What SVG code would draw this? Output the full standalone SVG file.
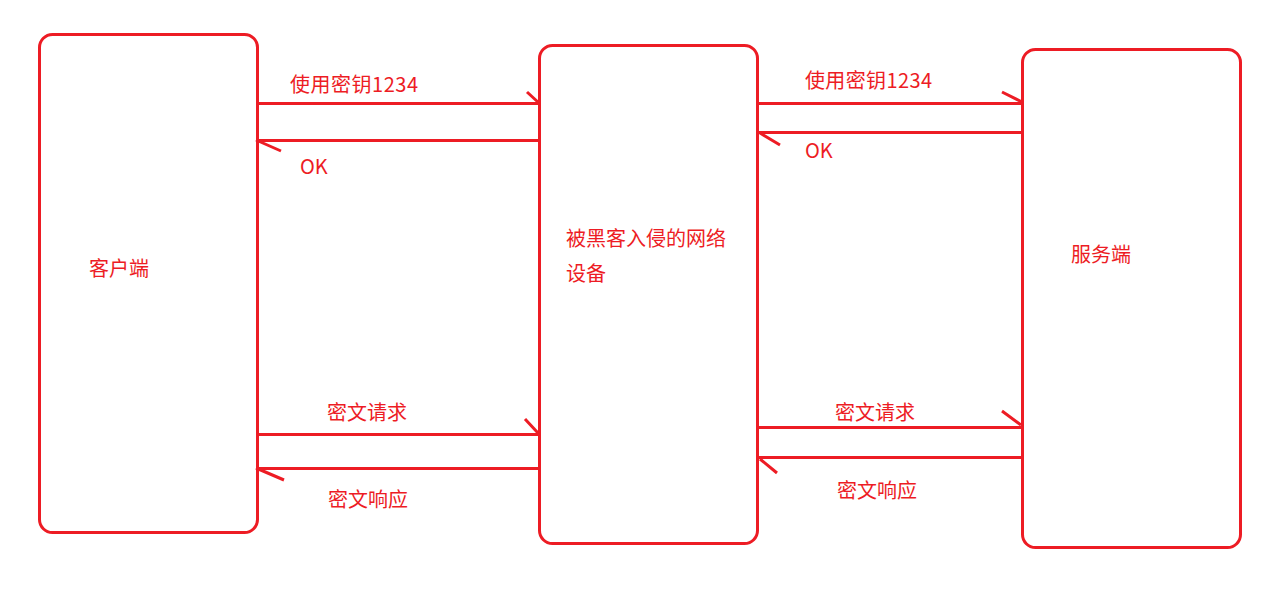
<svg xmlns="http://www.w3.org/2000/svg" width="1280" height="610" viewBox="0 0 1280 610">
<style>
.box{fill:#fff;stroke:#ed1c24;stroke-width:3}
.ln{stroke:#ed1c24;stroke-width:3;fill:none;stroke-linecap:butt}
.t{fill:#ed1c24;font-family:"Microsoft YaHei","Noto Sans CJK SC",sans-serif;font-size:20px}
</style>
<rect width="1280" height="610" fill="#fff"/>
<g id="client">
<rect class="box" x="39.5" y="34.5" width="218" height="498" rx="13"/>
<text class="t" x="89" y="276">客户端</text>
</g>
<g id="hacked">
<rect class="box" x="539.5" y="45.5" width="218" height="498" rx="13"/>
<text class="t" x="566" y="246">被黑客入侵的网络</text>
<text class="t" x="566" y="281">设备</text>
</g>
<g id="server">
<rect class="box" x="1022.5" y="49.5" width="218" height="498" rx="13"/>
<text class="t" x="1071" y="262">服务端</text>
</g>
<g id="connectors">
<path class="ln" d="M256 103.5H539M527 92L539 103"/>
<path class="ln" d="M539 140.5H256M256 140L281 151"/>
<path class="ln" d="M758 103.5H1022M1002 92L1022 102"/>
<path class="ln" d="M1022 132.5H758M760 133L780 145"/>
<path class="ln" d="M258 434.5H539M525 419L538 433"/>
<path class="ln" d="M539 468.5H256M256 468L284 480"/>
<path class="ln" d="M758 427.5H1022M1002 411L1021 425"/>
<path class="ln" d="M1022 457.5H758M760 459L777 473"/>
</g>
<g id="labels">
<text class="t" x="290" y="92" textLength="128" lengthAdjust="spacing">使用密钥1234</text>
<text class="t" x="300" y="174">OK</text>
<text class="t" x="805" y="88" textLength="127" lengthAdjust="spacing">使用密钥1234</text>
<text class="t" x="805" y="158">OK</text>
<text class="t" x="327" y="420">密文请求</text>
<text class="t" x="328" y="507">密文响应</text>
<text class="t" x="835" y="420">密文请求</text>
<text class="t" x="837" y="498">密文响应</text>
</g>
</svg>
